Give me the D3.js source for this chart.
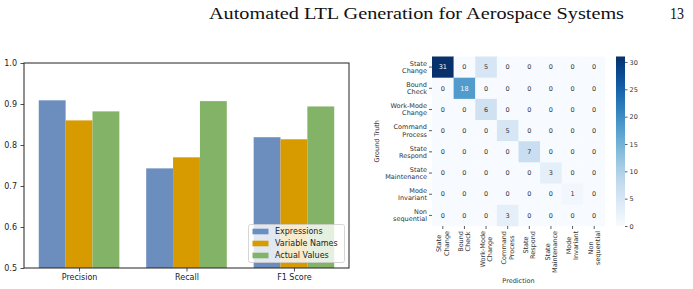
<!DOCTYPE html>
<html><head><meta charset="utf-8">
<script src="https://cdn.jsdelivr.net/npm/d3@7/dist/d3.min.js"></script>
<style>
html,body{margin:0;padding:0;background:#fff;}
svg{display:block;}
</style></head>
<body>
<script>
// ---- data ----
const headerTitle = "Automated LTL Generation for Aerospace Systems";
const pageNumber = "13";

const categories = ["Precision", "Recall", "F1 Score"];
const seriesNames = ["Expressions", "Variable Names", "Actual Values"];
const expressions = [0.909, 0.743, 0.819];
const variableNames = [0.860, 0.770, 0.814];
const actualValues = [0.882, 0.907, 0.894];
const barYTicks = [0.5, 0.6, 0.7, 0.8, 0.9, 1.0];

const rowLabels = [["State","Change"],["Bound","Check"],["Work-Mode","Change"],["Command","Process"],["State","Respond"],["State","Maintenance"],["Mode","Invariant"],["Non","sequential"]];
const colLabels = [["State","Change"],["Bound","Check"],["Work-Mode","Change"],["Command","Process"],["State","Respond"],["State","Maintenance"],["Mode","Invariant"],["Non","sequential"]];
const row0 = [31,0,5,0,0,0,0,0];
const row1 = [0,18,0,0,0,0,0,0];
const row2 = [0,0,6,0,0,0,0,0];
const row3 = [0,0,0,5,0,0,0,0];
const row4 = [0,0,0,0,7,0,0,0];
const row5 = [0,0,0,0,0,3,0,0];
const row6 = [0,0,0,0,0,0,1,0];
const row7 = [0,0,0,3,0,0,0,0];
const matrix = [row0,row1,row2,row3,row4,row5,row6,row7];
const cbTicks = [0,5,10,15,20,25,30];

const W = 693, H = 289;
const SANS = "'DejaVu Sans', sans-serif";
const SERIF = "'Liberation Serif', 'DejaVu Serif', serif";
const svg = d3.select("body").append("svg").attr("width", W).attr("height", H)
  .style("font-family", SANS);

// ---- header ----
svg.append("text").attr("x", 209).attr("y", 19)
  .style("font-family", SERIF).attr("font-size", 16)
  .attr("textLength", 415).attr("lengthAdjust", "spacingAndGlyphs")
  .attr("fill", "#111").text(headerTitle);
svg.append("text").attr("x", 670).attr("y", 19)
  .style("font-family", SERIF).attr("font-size", 16)
  .attr("textLength", 14).attr("lengthAdjust", "spacingAndGlyphs")
  .attr("fill", "#111").text(pageNumber);

// ---- bar chart ----
const colors = ["#6c8ebf", "#d79b00", "#82b366"];
const series = [expressions, variableNames, actualValues];
const bx = d3.scaleLinear().domain([-0.5125, 2.5125]).range([24, 349]);
const by = d3.scaleLinear().domain([0.5, 1.0]).range([268, 63]);
const bw = 0.25;
const g1 = svg.append("g");
series.forEach((vals, si) => {
  g1.selectAll(null).data(vals).enter().append("rect")
    .attr("x", (d, i) => bx(i + (si - 1) * bw - bw / 2))
    .attr("width", (d, i) => bx(i + (si - 1) * bw + bw / 2) - bx(i + (si - 1) * bw - bw / 2))
    .attr("y", d => by(d))
    .attr("height", d => by(0.5) - by(d))
    .attr("fill", colors[si]);
});
const yAx = g1.append("g").attr("transform", "translate(24,0)")
  .call(d3.axisLeft(by).tickValues(barYTicks).tickFormat(d3.format(".1f")).tickSize(3.5).tickPadding(3.5));
const xAx = g1.append("g").attr("transform", "translate(0,268)")
  .call(d3.axisBottom(bx).tickValues([0,1,2]).tickFormat(i => categories[i]).tickSize(3.5).tickPadding(3));
[yAx, xAx].forEach(a => {
  a.select(".domain").remove();
  a.attr("font-family", null);
  a.selectAll("text").attr("font-size", 8).attr("fill", "#222").style("font-family", SANS);
  a.selectAll("line").attr("stroke", "#222").attr("stroke-width", 0.8);
});
g1.append("rect").attr("x", 24).attr("y", 63).attr("width", 325).attr("height", 205)
  .attr("fill", "none").attr("stroke", "#222").attr("stroke-width", 1);

// legend
const lg = g1.append("g");
lg.append("rect").attr("x", 248.5).attr("y", 224.5).attr("width", 96).attr("height", 38)
  .attr("rx", 2).attr("fill", "#fff").attr("fill-opacity", 0.8).attr("stroke", "#cccccc").attr("stroke-width", 0.8);
seriesNames.forEach((n, i) => {
  const cy = 231.5 + i * 12;
  lg.append("rect").attr("x", 252.5).attr("y", cy - 2.8).attr("width", 16).attr("height", 5.6).attr("fill", colors[i]);
  lg.append("text").attr("x", 275).attr("y", cy).attr("dy", "0.35em").attr("font-size", 8).attr("fill", "#222").text(n);
});

// ---- heatmap ----
const hx0 = 432, hx1 = 605, hy0 = 56.5, hy1 = 226;
const hx = d3.scaleBand().domain(d3.range(8)).range([hx0, hx1]);
const hy = d3.scaleBand().domain(d3.range(8)).range([hy0, hy1]);
const vmax = 31;
const cscale = d3.scaleSequential(d3.interpolateBlues).domain([0, vmax]);
const g2 = svg.append("g");
const cells = [];
matrix.forEach((r, ri) => r.forEach((v, ci) => cells.push({ r: ri, c: ci, v })));
g2.selectAll(null).data(cells).enter().append("rect")
  .attr("x", d => hx(d.c)).attr("y", d => hy(d.r))
  .attr("width", hx.bandwidth() + 0.3).attr("height", hy.bandwidth() + 0.3)
  .attr("fill", d => cscale(d.v));
function lum(c) {
  const rgb = d3.rgb(c);
  const f = x => { x /= 255; return x <= 0.03928 ? x / 12.92 : Math.pow((x + 0.055) / 1.055, 2.4); };
  return 0.2126 * f(rgb.r) + 0.7152 * f(rgb.g) + 0.0722 * f(rgb.b);
}
g2.selectAll(null).data(cells).enter().append("text")
  .attr("x", d => hx(d.c) + hx.bandwidth() / 2).attr("y", d => hy(d.r) + hy.bandwidth() / 2)
  .attr("dy", "0.35em").attr("text-anchor", "middle").attr("font-size", 6.5)
  .attr("fill", d => lum(cscale(d.v)) < 0.408 ? "#ffffff" : "#333333").text(d => d.v);

// row labels
rowLabels.forEach((lab, i) => {
  const cy = hy(i) + hy.bandwidth() / 2;
  g2.append("line").attr("x1", hx0 - 3).attr("x2", hx0).attr("y1", cy).attr("y2", cy).attr("stroke", "#333").attr("stroke-width", 0.8);
  lab.forEach((t, k) => {
    g2.append("text").attr("x", hx0 - 5).attr("y", cy + (k - 0.5) * 7.2).attr("dy", "0.35em")
      .attr("text-anchor", "end").attr("font-size", 6.5).attr("fill", "#333").text(t);
  });
});
// col labels
colLabels.forEach((lab, i) => {
  const cx = hx(i) + hx.bandwidth() / 2;
  g2.append("line").attr("x1", cx).attr("x2", cx).attr("y1", hy1).attr("y2", hy1 + 3).attr("stroke", "#333").attr("stroke-width", 0.8);
  const ts = lab.map((t, k) => g2.append("text").attr("font-size", 6.5).attr("fill", "#333").attr("text-anchor", "middle").attr("dy", "0.35em").text(t));
  const maxLen = d3.max(ts, t => t.node().getComputedTextLength());
  ts.forEach((t, k) => {
    const x = cx + (k - 0.5) * 7.2, y = hy1 + 5 + maxLen / 2;
    t.attr("transform", `translate(${x},${y}) rotate(-90)`);
  });
});
svg.append("text").attr("transform", `translate(377,${(hy0 + hy1) / 2}) rotate(-90)`)
  .attr("text-anchor", "middle").attr("dy", "0.35em").attr("font-size", 6.5).attr("fill", "#333").text("Ground Truth");
svg.append("text").attr("x", (hx0 + hx1) / 2).attr("y", 281).attr("dy", "0.35em")
  .attr("text-anchor", "middle").attr("font-size", 6.5).attr("fill", "#333").text("Prediction");

// colorbar
const cbx = 616, cbw = 9;
const cby = d3.scaleLinear().domain([0, vmax]).range([hy1, hy0]);
const defs = svg.append("defs");
const grad = defs.append("linearGradient").attr("id", "cbg").attr("x1", 0).attr("y1", 1).attr("x2", 0).attr("y2", 0);
d3.range(0, 1.0001, 0.05).forEach(t => grad.append("stop").attr("offset", t).attr("stop-color", cscale(t * vmax)));
svg.append("rect").attr("x", cbx).attr("y", hy0).attr("width", cbw).attr("height", hy1 - hy0).attr("fill", "url(#cbg)");
const cbAx = svg.append("g").attr("transform", `translate(${cbx + cbw},0)`)
  .call(d3.axisRight(cby).tickValues(cbTicks).tickSize(2.5).tickPadding(2));
cbAx.select(".domain").remove();
cbAx.attr("font-family", null);
cbAx.selectAll("text").attr("font-size", 6.5).attr("fill", "#333").style("font-family", SANS);
cbAx.selectAll("line").attr("stroke", "#333").attr("stroke-width", 0.8);
</script>
</body></html>
